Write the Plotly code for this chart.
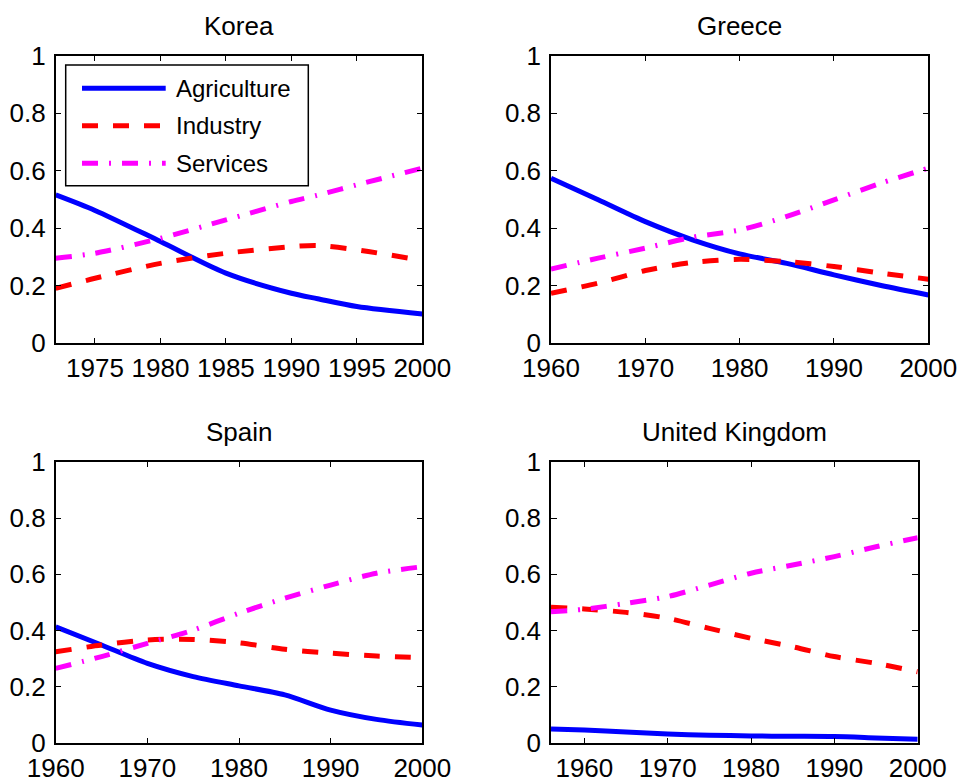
import plotly.graph_objects as go

# ---- data: sector shares of employment ----
sectors = ["Agriculture", "Industry", "Services"]

korea_years = [1972, 1975, 1980, 1985, 1990, 1992, 1995, 2000]
korea_agri = [0.516, 0.462, 0.354, 0.244, 0.174, 0.155, 0.128, 0.102]
korea_ind = [0.191, 0.226, 0.278, 0.313, 0.336, 0.340, 0.325, 0.288]
korea_serv = [0.296, 0.313, 0.365, 0.429, 0.493, 0.515, 0.551, 0.609]

greece_years = [1960, 1965, 1970, 1975, 1980, 1985, 1990, 1995, 2000]
greece_agri = [0.574, 0.499, 0.423, 0.360, 0.311, 0.278, 0.238, 0.201, 0.168]
greece_ind = [0.174, 0.209, 0.253, 0.281, 0.292, 0.284, 0.267, 0.244, 0.223]
greece_serv = [0.258, 0.296, 0.331, 0.369, 0.394, 0.441, 0.499, 0.557, 0.609]

spain_years = [1960, 1965, 1970, 1975, 1980, 1985, 1990, 1995, 2000]
spain_agri = [0.414, 0.349, 0.284, 0.237, 0.204, 0.172, 0.118, 0.085, 0.065]
spain_ind = [0.325, 0.349, 0.367, 0.369, 0.357, 0.334, 0.320, 0.310, 0.304]
spain_serv = [0.266, 0.308, 0.355, 0.402, 0.462, 0.515, 0.562, 0.604, 0.627]

uk_years = [1956, 1960, 1965, 1970, 1975, 1980, 1985, 1990, 1995, 2000]
uk_agri = [0.051, 0.047, 0.040, 0.033, 0.029, 0.026, 0.025, 0.024, 0.019, 0.014]
uk_ind = [0.483, 0.477, 0.465, 0.444, 0.408, 0.373, 0.343, 0.308, 0.284, 0.254]
uk_serv = [0.467, 0.476, 0.497, 0.521, 0.562, 0.604, 0.633, 0.663, 0.698, 0.730]

y_ticks = [0, 0.2, 0.4, 0.6, 0.8, 1]
y_tick_labels = ["0", "0.2", "0.4", "0.6", "0.8", "1"]
korea_x_ticks = [1975, 1980, 1985, 1990, 1995, 2000]
decade_x_ticks = [1960, 1970, 1980, 1990, 2000]

# ---- styling ----
W, H = 962, 783
FONT = "Liberation Sans, Arial, Helvetica, sans-serif"
TICK_SIZE = 26
LINE_W = 5
styles = {
    "Agriculture": dict(color="#0000FF", width=LINE_W, dash="solid"),
    "Industry": dict(color="#FF0000", width=LINE_W, dash="16px,15px"),
    "Services": dict(color="#FF00FF", width=LINE_W, dash="16px,11px,2px,11px"),
}


def px_x(px):
    return px / W


def px_y(py):
    return 1 - py / H


# panel definitions: title, years, series, x range, x ticks, pixel box (l, r, t, b)
panels = [
    ("Korea", korea_years, [korea_agri, korea_ind, korea_serv],
     [1972, 2000], korea_x_ticks, (55.7, 422.3, 55.7, 343.3)),
    ("Greece", greece_years, [greece_agri, greece_ind, greece_serv],
     [1960, 2000], decade_x_ticks, (551.0, 928.3, 55.7, 343.3)),
    ("Spain", spain_years, [spain_agri, spain_ind, spain_serv],
     [1960, 2000], decade_x_ticks, (55.7, 422.3, 461.7, 743.3)),
    ("United Kingdom", uk_years, [uk_agri, uk_ind, uk_serv],
     [1956, 2000], decade_x_ticks, (551.0, 917.7, 461.7, 743.3)),
]

fig = go.Figure()
annotations = []
shapes = []

for i, (title, years, series, xr, xt, box) in enumerate(panels, start=1):
    sfx = "" if i == 1 else str(i)
    l, r, t, b = box
    for name, vals in zip(sectors, series):
        fig.add_trace(go.Scatter(
            x=years, y=vals, mode="lines", name=name,
            line=dict(shape="spline", smoothing=0.8, **styles[name]),
            xaxis="x" + sfx, yaxis="y" + sfx, showlegend=False,
            cliponaxis=True,
        ))
    axis_common = dict(
        showline=True, linecolor="black", linewidth=1.5, mirror="ticks",
        ticks="inside", ticklen=6, tickwidth=1, tickcolor="black",
        showgrid=False, zeroline=False, automargin=False,
        tickfont=dict(family=FONT, size=TICK_SIZE, color="black"),
    )
    fig.layout["xaxis" + sfx] = dict(
        domain=[px_x(l), px_x(r)], range=xr, tickvals=xt,
        anchor="y" + sfx, ticklabelstandoff=1, **axis_common)
    fig.layout["yaxis" + sfx] = dict(
        domain=[px_y(b), px_y(t)], range=[0, 1], tickvals=y_ticks,
        ticktext=y_tick_labels, anchor="x" + sfx, ticklabelstandoff=3,
        **axis_common)
    annotations.append(dict(
        text=title, xref="paper", yref="paper",
        x=px_x((l + r) / 2), y=px_y(t - 30), xanchor="center", yanchor="middle",
        showarrow=False, font=dict(family=FONT, size=TICK_SIZE, color="black"),
    ))

# legend box inside the Korea panel
leg_l, leg_r, leg_t, leg_b = 65.7, 308.3, 65.0, 185.7
shapes.append(dict(
    type="rect", xref="paper", yref="paper",
    x0=px_x(leg_l), x1=px_x(leg_r), y0=px_y(leg_b), y1=px_y(leg_t),
    line=dict(color="black", width=1.5), fillcolor="white", layer="above",
))
for name, ly in zip(sectors, [88.3, 125.7, 163.3]):
    st = styles[name]
    shapes.append(dict(
        type="line", xref="paper", yref="paper",
        x0=px_x(82), x1=px_x(165.7), y0=px_y(ly), y1=px_y(ly),
        line=dict(color=st["color"], width=st["width"], dash=st["dash"]),
        layer="above",
    ))
    annotations.append(dict(
        text=name, xref="paper", yref="paper",
        x=px_x(174), y=px_y(ly), xanchor="left", yanchor="middle",
        showarrow=False, font=dict(family=FONT, size=24, color="black"),
    ))

fig.update_layout(
    width=W, height=H, autosize=False,
    margin=dict(l=0, r=0, t=0, b=0, autoexpand=False),
    paper_bgcolor="white", plot_bgcolor="white",
    annotations=annotations, shapes=shapes,
    showlegend=False,
)

fig.write_html("out.html")
